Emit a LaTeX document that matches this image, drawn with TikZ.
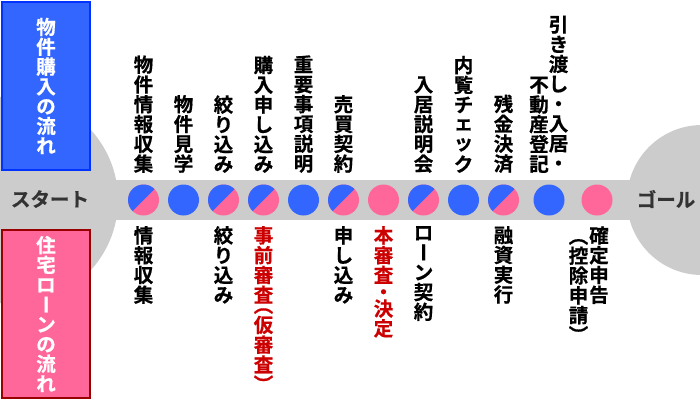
\documentclass[tikz,border=0pt]{standalone}
\usepackage{fontspec}
\usepackage{graphicx}
\setmainfont{Noto Sans CJK JP}[BoldFont={Noto Sans CJK JP Bold}, BoldFeatures={FakeBold=0.6}]
\definecolor{cblue}{HTML}{3366FF}
\definecolor{cbluedark}{HTML}{0033FF}
\definecolor{cpink}{HTML}{FF6699}
\definecolor{cpinkdark}{HTML}{990000}
\definecolor{cgray}{HTML}{CCCCCC}
\definecolor{cred}{HTML}{CC0000}
\definecolor{ctext}{HTML}{333333}
\newcommand\vrot[1]{\rotatebox[origin=c]{-90}{\makebox[1em]{\rule[-0.12em]{0pt}{1em}#1}}}
\newcommand\smk[1]{\raisebox{0.1em}{#1}}
\begin{document}
\begin{tikzpicture}[x=1pt,y=-1pt,
  lab/.style={font=\fontsize{19.5}{19.8}\selectfont\bfseries, align=center, inner sep=0pt, text=black},
  redlab/.style={lab, text=cred},
  endlab/.style={font=\fontsize{19.5}{20}\selectfont\bfseries, inner sep=0pt, text=ctext},
  flowbox/.style={lab, text=white, line width=2pt, minimum width=88pt, minimum height=168pt},
  dot/.style={circle, minimum size=31pt, inner sep=0pt},
  bdot/.style={dot, fill=cblue},
  pdot/.style={dot, fill=cpink},
  sdot/.style={dot, fill=cpink, path picture={\fill[cblue] (path picture bounding box.south west) -- (path picture bounding box.north east) -- (path picture bounding box.north west) -- cycle;}}
]
\useasboundingbox (0,0) rectangle (700,400);
\fill[white] (0,0) rectangle (700,400);
\begin{scope}
  \clip (0,0) rectangle (700,400);
  \fill[cgray] (0,180) rectangle (700,220);
  \fill[cgray] (14,200) circle[radius=104];
  \fill[cgray] (702,200) circle[radius=75];
\end{scope}

% side boxes
\node[flowbox, draw=cbluedark, fill=cblue] (buy) at (46,86) {物\\件\\購\\入\\の\\流\\れ};
\node[flowbox, draw=cpinkdark, fill=cpink] (loan) at (46,314) {住\\宅\\ロ\\\vrot{ー}\\ン\\の\\流\\れ};

% start / goal
\node[endlab] (start) at (50,199) {スタート};
\node[endlab] (goal) at (666,199) {ゴール};

% step dots
\node[sdot] (c1) at (143.5,200) {};
\node[bdot] (c2) at (183.5,200) {};
\node[sdot] (c3) at (223.5,200) {};
\node[sdot] (c4) at (263.5,200) {};
\node[bdot] (c5) at (303.5,200) {};
\node[sdot] (c6) at (343.5,200) {};
\node[pdot] (c7) at (383.5,200) {};
\node[sdot] (c8) at (423.5,200) {};
\node[bdot] (c9) at (463.5,200) {};
\node[sdot] (c10) at (503.5,200) {};
\node[bdot] (c11) at (549,200) {};
\node[pdot] (c12) at (597,200) {};

% top labels (purchase flow)
\node[lab, anchor=south] (t1) at (143.5,173) {物\\件\\情\\報\\収\\集};
\node[lab, anchor=south] (t2) at (183.5,173) {物\\件\\見\\学};
\node[lab, anchor=south] (t3) at (223.5,173) {絞\\り\\込\\み};
\node[lab, anchor=south] (t4) at (263.5,173) {購\\入\\申\\し\\込\\み};
\node[lab, anchor=south] (t5) at (303.5,173) {重\\要\\事\\項\\説\\明};
\node[lab, anchor=south] (t6) at (343.5,173) {売\\買\\契\\約};
\node[lab, anchor=south] (t8) at (423.5,173) {入\\居\\説\\明\\会};
\node[lab, anchor=south] (t9) at (463.5,173) {内\\覧\\チ\\\smk{ェ}\\\smk{ッ}\\ク};
\node[lab, anchor=south] (t10) at (503.5,173) {残\\金\\決\\済};
\node[lab, anchor=south] (t11a) at (558.5,173) {引\\き\\渡\\し\\・\\入\\居\\・\rule[-0.12em]{0pt}{0pt}};
\node[lab, anchor=south] (t11b) at (539,173) {不\\動\\産\\登\\記};

% bottom labels (loan flow)
\node[lab, anchor=north] (b1) at (143.5,226) {情\\報\\収\\集};
\node[lab, anchor=north] (b3) at (223.5,226) {絞\\り\\込\\み};
\node[redlab, anchor=north] (b4) at (263.5,226) {事\\前\\審\\査\\[-9.5pt]\vrot{（}\\仮\\審\\査\\\vrot{）}};
\node[lab, anchor=north] (b6) at (343.5,226) {申\\し\\込\\み};
\node[redlab, anchor=north] (b7) at (383.5,226) {本\\審\\査\\[-3pt]・\\[-3pt]決\\定};
\node[lab, anchor=north] (b8) at (423.5,226) {ロ\\\vrot{ー}\\ン\\契\\約};
\node[lab, anchor=north] (b10) at (503.5,226) {融\\資\\実\\行};
\node[lab, anchor=north] (b12a) at (599,226) {確\\定\\申\\告};
\node[lab, anchor=north] (b12b) at (578.5,226) {\vrot{（}\\控\\除\\申\\請\\\vrot{）}};
\end{tikzpicture}
\end{document}
